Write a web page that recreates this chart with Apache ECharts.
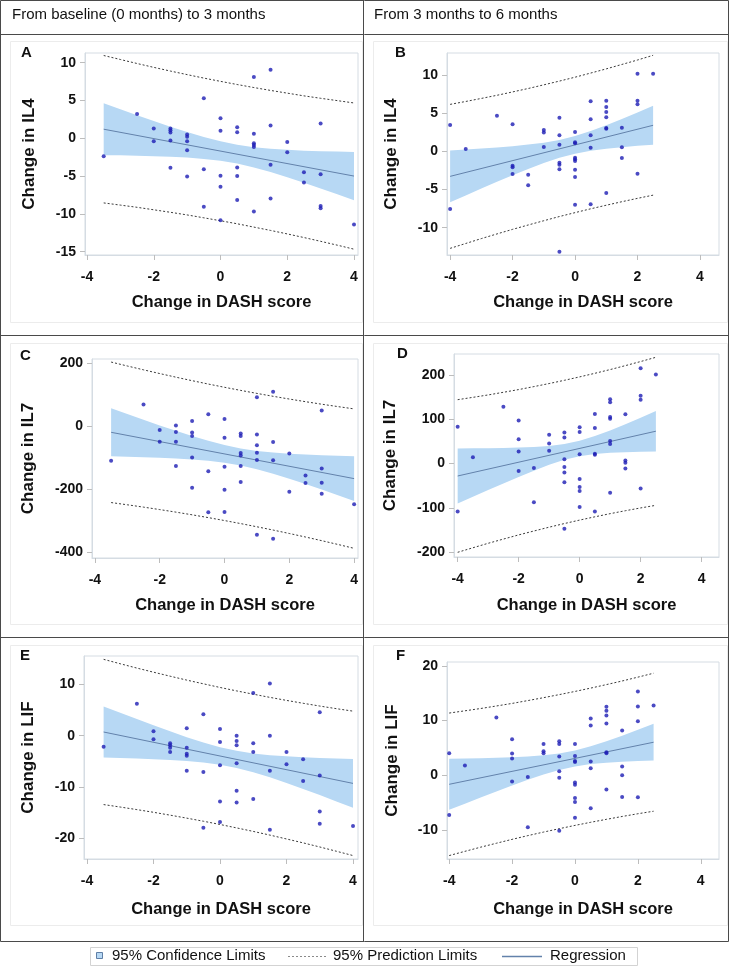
<!DOCTYPE html>
<html>
<head>
<meta charset="utf-8">
<script src="https://cdn.jsdelivr.net/npm/echarts/dist/echarts.min.js"></script>
<style>
  html, body { margin: 0; padding: 0; background: #fff; }
  #chart { width: 729px; height: 967px; }
</style>
</head>
<body>
<div id="chart"></div>
<script>
// x positions of the fitted curves (DASH score change)
const fitX1 = [-3.5, -3, -2.5, -2, -1.5, -1, -0.5, 0, 0.5, 1, 1.5, 2, 2.5, 3, 3.5, 4]
const fitX2 = [-4, -3.5, -3, -2.5, -2, -1.5, -1, -0.5, 0, 0.5, 1, 1.5, 2, 2.5]
const xTicks = [-4, -2, 0, 2, 4]

// A: IL4, baseline -> 3 months
const ptsA = [[-3.5,-2.38],[-2.5,3.2],[-2,1.3],[-2,-0.4],[-1.5,1.3],[-1.5,1.05],[-1.5,0.75],[-1.5,-0.3],[-1.5,-3.9],
  [-1,0.5],[-1,0.2],[-1,-0.4],[-1,-1.6],[-1,-5.05],[-0.5,5.3],[-0.5,-4.1],[-0.5,-9.05],
  [0,2.65],[0,1.0],[0,-4.95],[0,-6.4],[0,-10.85],[0.5,1.45],[0.5,0.8],[0.5,-3.85],[0.5,-5.0],[0.5,-8.15],
  [1,8.1],[1,0.6],[1,-0.65],[1,-0.9],[1,-1.15],[1,-9.7],[1.5,9.05],[1.5,1.7],[1.5,-3.5],[1.5,-7.95],
  [2,-0.5],[2,-1.85],[2.5,-4.5],[2.5,-5.85],[3,1.95],[3,-4.75],[3,-8.95],[3,-9.25],[4,-11.4]]
const regA = [[-3.5, 1.2], [4, -5.0]]
const ciHiA = [4.63, 3.84, 3.06, 2.29, 1.54, 0.83, 0.17, -0.40, -0.85, -1.18, -1.39, -1.53, -1.64, -1.70, -1.75, -1.80]
const ciLoA = [-2.23, -2.26, -2.30, -2.37, -2.44, -2.55, -2.73, -2.98, -3.35, -3.86, -4.47, -5.15, -5.88, -6.64, -7.41, -8.20]
const piHiA = [10.95, 10.42, 9.89, 9.38, 8.89, 8.42, 7.96, 7.53, 7.11, 6.71, 6.33, 5.97, 5.61, 5.29, 4.98, 4.67]
const piLoA = [-8.55, -8.84, -9.13, -9.46, -9.79, -10.14, -10.52, -10.91, -11.31, -11.75, -12.19, -12.65, -13.13, -13.63, -14.14, -14.67]

// B: IL4, 3 -> 6 months
const ptsB = [[-4,3.45],[-4,-7.55],[-3.5,0.3],[-2.5,4.67],[-2,3.54],[-2,-1.88],[-2,-2.1],[-2,-2.97],[-1.5,-3.06],[-1.5,-4.45],
  [-1,2.8],[-1,2.45],[-1,0.57],[-0.5,4.41],[-0.5,2.1],[-0.5,0.87],[-0.5,-1.48],[-0.5,-1.75],[-0.5,-2.36],[-0.5,-13.14],
  [0,2.53],[0,1.18],[0,1.05],[0,-0.83],[0,-1.05],[0,-1.27],[0,-2.4],[0,-3.36],[0,-6.99],
  [0.5,6.55],[0.5,4.19],[0.5,2.1],[0.5,0.48],[0.5,-6.94],[1,6.64],[1,5.8],[1,5.15],[1,4.45],[1,3.06],[1,2.97],[1,-5.46],
  [1.5,3.1],[1.5,0.52],[1.5,-0.87],[2,10.17],[2,6.64],[2,6.16],[2,-2.93],[2.5,10.17]]
const regB = [[-4, -3.28], [2.5, 3.41]]
const ciHiB = [0.12, 0.24, 0.37, 0.51, 0.68, 0.88, 1.14, 1.50, 2.00, 2.65, 3.40, 4.23, 5.08, 5.97]
const ciLoB = [-6.68, -5.78, -4.87, -3.99, -3.12, -2.30, -1.52, -0.84, -0.32, 0.07, 0.34, 0.55, 0.72, 0.87]
const piHiB = [6.15, 6.53, 6.93, 7.34, 7.78, 8.23, 8.71, 9.20, 9.71, 10.25, 10.80, 11.38, 11.96, 12.58]
const piLoB = [-12.71, -12.07, -11.43, -10.82, -10.22, -9.65, -9.09, -8.54, -8.03, -7.53, -7.06, -6.60, -6.16, -5.74]

// C: IL7, baseline -> 3 months
const ptsC = [[-3.5,-109],[-2.5,69],[-2,-12],[-2,-49],[-1.5,3],[-1.5,-18],[-1.5,-49],[-1.5,-126],
  [-1,17],[-1,-20],[-1,-31],[-1,-99],[-1,-195],[-0.5,38],[-0.5,-143],[-0.5,-273],
  [0,23],[0,-36],[0,-128],[0,-201],[0,-272],[0.5,-23],[0.5,-31],[0.5,-85],[0.5,-93],[0.5,-126],[0.5,-177],
  [1,92],[1,-26],[1,-60],[1,-84],[1,-107],[1,-344],[1.5,110],[1.5,-50],[1.5,-108],[1.5,-357],
  [2,-86],[2,-208],[2.5,-156],[2.5,-180],[3,50],[3,-134],[3,-179],[3,-214],[4,-247]]
const regC = [[-3.5, -19], [4, -166]]
const ciHiC = [57.0, 38.8, 20.7, 3.0, -14.3, -30.9, -46.2, -59.6, -70.3, -78.1, -83.4, -87.1, -89.8, -91.9, -93.6, -95.1]
const ciLoC = [-95.0, -96.4, -97.9, -99.8, -102.1, -105.1, -109.4, -115.6, -124.5, -136.3, -150.6, -166.5, -183.4, -200.9, -218.8, -236.9]
const piHiC = [204.0, 191.5, 179.3, 167.5, 156.0, 144.9, 134.2, 123.9, 114.0, 104.5, 95.3, 86.6, 78.2, 70.2, 62.6, 55.3]
const piLoC = [-242.0, -249.1, -256.5, -264.3, -272.4, -280.9, -289.8, -299.1, -308.8, -318.9, -329.3, -340.2, -351.4, -363.0, -375.0, -387.3]

// D: IL7, 3 -> 6 months
const ptsD = [[-4,83],[-4,-108],[-3.5,14],[-2.5,128],[-2,97],[-2,55],[-2,27],[-2,-17],[-1.5,-87],[-1.5,-10],
  [-1,65],[-1,45],[-1,29],[-0.5,70],[-0.5,59],[-0.5,10],[-0.5,-8],[-0.5,-20],[-0.5,-42],[-0.5,-147],
  [0,82],[0,71],[0,21],[0,-35],[0,-53],[0,-62],[0,-98],[0.5,112],[0.5,80],[0.5,22],[0.5,20],[0.5,-108],
  [1,145],[1,138],[1,105],[1,101],[1,51],[1,44],[1,-66],[1.5,111],[1.5,7],[1.5,2],[1.5,-11],
  [2,215],[2,153],[2,144],[2,-56],[2.5,201]]
const regD = [[-4, -28], [2.5, 73]]
const ciHiD = [34.0, 34.3, 34.6, 35.2, 36.0, 37.4, 39.7, 44.0, 51.3, 62.0, 74.8, 88.8, 103.3, 118.3]
const ciLoD = [-90.0, -74.8, -59.6, -44.7, -30.0, -15.9, -2.7, 8.6, 16.7, 21.6, 24.2, 25.8, 26.7, 27.3]
const piHiD = [144.0, 149.3, 154.7, 160.7, 166.8, 173.5, 180.4, 187.7, 195.4, 203.5, 211.9, 220.8, 230.0, 239.6]
const piLoD = [-200.0, -189.8, -179.7, -170.2, -160.8, -152.0, -143.4, -135.2, -127.4, -120.0, -112.9, -106.3, -100.0, -94.1]

// E: LIF, baseline -> 3 months
const ptsE = [[-3.5,-2.14],[-2.5,6.23],[-2,0.84],[-2,-0.71],[-1.5,-1.49],[-1.5,-1.88],[-1.5,-2.34],[-1.5,-3.18],
  [-1,1.43],[-1,-2.34],[-1,-3.51],[-1,-3.9],[-1,-6.82],[-0.5,4.16],[-0.5,-7.08],[-0.5,-17.92],
  [0,1.3],[0,-1.23],[0,-5.78],[0,-12.79],[0,-16.82],[0.5,0],[0.5,-1.04],[0.5,-1.88],[0.5,-5.39],[0.5,-10.71],[0.5,-12.99],
  [1,8.31],[1,-1.49],[1,-3.18],[1,-12.34],[1.5,10.13],[1.5,0],[1.5,-6.82],[1.5,-18.31],
  [2,-3.18],[2,-5.58],[2.5,-4.61],[2.5,-8.83],[3,4.55],[3,-7.73],[3,-14.74],[3,-17.14],[4,-17.6]]
const regE = [[-3.5, 0.71], [4, -9.29]]
const ciHiE = [5.69, 4.45, 3.22, 2.02, 0.84, -0.29, -1.33, -2.25, -2.96, -3.45, -3.79, -4.02, -4.19, -4.33, -4.45, -4.54]
const ciLoE = [-4.25, -4.35, -4.46, -4.58, -4.74, -4.95, -5.23, -5.65, -6.28, -7.11, -8.11, -9.22, -10.37, -11.57, -12.79, -14.02]
const piHiE = [14.85, 13.99, 13.15, 12.35, 11.57, 10.81, 10.09, 9.38, 8.71, 8.07, 7.45, 6.86, 6.30, 5.76, 5.25, 4.77]
const piLoE = [-13.41, -13.89, -14.39, -14.91, -15.47, -16.05, -16.65, -17.28, -17.95, -18.63, -19.35, -20.10, -20.86, -21.66, -22.49, -23.33]

// F: LIF, 3 -> 6 months
const ptsF = [[-4,4.02],[-4,-7.26],[-3.5,1.77],[-2.5,10.55],[-2,6.59],[-2,3.96],[-2,3.05],[-2,-1.16],[-1.5,-0.3],[-1.5,-9.51],
  [-1,5.73],[-1,4.39],[-1,4.02],[-0.5,6.22],[-0.5,5.73],[-0.5,3.41],[-0.5,0.73],[-0.5,-0.43],[-0.5,-10.12],
  [0,5.73],[0,3.54],[0,2.62],[0,2.44],[0,-1.34],[0,-1.71],[0,-4.15],[0,-4.88],[0,-7.74],
  [0.5,10.37],[0.5,9.09],[0.5,2.5],[0.5,1.28],[0.5,-6.04],[1,12.5],[1,11.77],[1,10.91],[1,9.45],[1,4.21],[1,4.02],[1,-2.62],
  [1.5,8.17],[1.5,1.59],[1.5,0],[1.5,-3.96],[2,15.3],[2,12.56],[2,9.88],[2,-4.02],[2.5,12.74]]
const regF = [[-4, -1.65], [2.5, 6.04]]
const ciHiF = [3.02, 3.07, 3.12, 3.20, 3.29, 3.45, 3.65, 4.00, 4.54, 5.29, 6.21, 7.22, 8.30, 9.40]
const ciLoF = [-6.32, -5.19, -4.06, -2.96, -1.87, -0.83, 0.15, 0.98, 1.62, 2.05, 2.31, 2.48, 2.60, 2.68]
const piHiF = [11.37, 11.78, 12.20, 12.66, 13.13, 13.65, 14.18, 14.74, 15.32, 15.93, 16.57, 17.23, 17.93, 18.65]
const piLoF = [-14.67, -13.90, -13.14, -12.42, -11.71, -11.03, -10.38, -9.76, -9.16, -8.59, -8.05, -7.53, -7.03, -6.57]

const BAND = '#b7d8f4'
const REG = '#6382ab'
const DOT = '#1d1db4'
const PRED = '#3a3a3a'
const FONT = '"Liberation Sans", Arial, sans-serif'

const panels = [
  { letter: 'A', lx: 27, ly: 54, grid: { left: 85, top: 53, width: 273, height: 202 }, xr: [-4.06, 4.12], yr: [-15.44, 11.28],
    yTicks: [-15, -10, -5, 0, 5, 10], yName: 'Change in IL4', yGap: 47, xGap: 39,
    pts: ptsA, fx: fitX1, reg: regA, ciHi: ciHiA, ciLo: ciLoA, piHi: piHiA, piLo: piLoA },
  { letter: 'B', lx: 401, ly: 54, grid: { left: 447, top: 53, width: 272, height: 202 }, xr: [-4.1, 4.61], yr: [-13.58, 12.88],
    yTicks: [-10, -5, 0, 5, 10], yName: 'Change in IL4', yGap: 47, xGap: 39,
    pts: ptsB, fx: fitX2, reg: regB, ciHi: ciHiB, ciLo: ciLoB, piHi: piHiB, piLo: piLoB },
  { letter: 'C', lx: 26, ly: 357, grid: { left: 92, top: 359, width: 266, height: 199 }, xr: [-4.09, 4.12], yr: [-418, 213.7],
    yTicks: [-400, -200, 0, 200], yName: 'Change in IL7', yGap: 55, xGap: 39,
    pts: ptsC, fx: fitX1, reg: regC, ciHi: ciHiC, ciLo: ciLoC, piHi: piHiC, piLo: piLoC },
  { letter: 'D', lx: 403, ly: 355, grid: { left: 454, top: 354, width: 265, height: 203 }, xr: [-4.12, 4.57], yr: [-210.6, 247],
    yTicks: [-200, -100, 0, 100, 200], yName: 'Change in IL7', yGap: 55, xGap: 40,
    pts: ptsD, fx: fitX2, reg: regD, ciHi: ciHiD, ciLo: ciLoD, piHi: piHiD, piLo: piLoD },
  { letter: 'E', lx: 26, ly: 657, grid: { left: 84, top: 656, width: 274, height: 203 }, xr: [-4.09, 4.15], yr: [-24.0, 15.5],
    yTicks: [-20, -10, 0, 10], yName: 'Change in LIF', yGap: 47, xGap: 42,
    pts: ptsE, fx: fitX1, reg: regE, ciHi: ciHiE, ciLo: ciLoE, piHi: piHiE, piLo: piLoE },
  { letter: 'F', lx: 402, ly: 657, grid: { left: 447, top: 662, width: 272, height: 197 }, xr: [-4.07, 4.58], yr: [-15.3, 20.7],
    yTicks: [-10, 0, 10, 20], yName: 'Change in LIF', yGap: 46, xGap: 42,
    pts: ptsF, fx: fitX2, reg: regF, ciHi: ciHiF, ciLo: ciLoF, piHi: piHiF, piLo: piLoF }
]

const grids = [], xAxes = [], yAxes = [], series = [], graphics = []

panels.forEach((p, i) => {
  grids.push(Object.assign({ show: true, borderColor: '#d5dce3', borderWidth: 1, backgroundColor: '#fff' }, p.grid))
  xAxes.push({
    type: 'value', gridIndex: i, min: p.xr[0], max: p.xr[1],
    name: 'Change in DASH score', nameLocation: 'middle', nameGap: p.xGap,
    nameTextStyle: { fontFamily: FONT, fontWeight: 'bold', fontSize: 16.5, color: '#111' },
    axisLine: { show: true, onZero: false, lineStyle: { color: '#d5dce3' } },
    axisTick: { show: true, length: 5, customValues: xTicks, lineStyle: { color: '#bdbdbd' } },
    axisLabel: { customValues: xTicks, margin: 15, fontFamily: FONT, fontWeight: 'bold', fontSize: 14, color: '#111' },
    splitLine: { show: false }
  })
  yAxes.push({
    type: 'value', gridIndex: i, min: p.yr[0], max: p.yr[1],
    name: p.yName, nameLocation: 'middle', nameGap: p.yGap,
    nameTextStyle: { fontFamily: FONT, fontWeight: 'bold', fontSize: 17, color: '#111' },
    axisLine: { show: true, onZero: false, lineStyle: { color: '#d5dce3' } },
    axisTick: { show: true, length: 5, customValues: p.yTicks, lineStyle: { color: '#bdbdbd' } },
    axisLabel: { customValues: p.yTicks, margin: 9, fontFamily: FONT, fontWeight: 'bold', fontSize: 14, color: '#111' },
    splitLine: { show: false }
  })

  const fx = p.fx, lo = p.ciLo, hi = p.ciHi
  series.push({
    name: '95% Confidence Limits', type: 'custom', xAxisIndex: i, yAxisIndex: i,
    silent: true, z: 1, clip: true, data: [[0, 0]],
    renderItem(params, api) {
      const poly = fx.map((x, k) => api.coord([x, hi[k]]))
      for (let k = fx.length - 1; k >= 0; k--) poly.push(api.coord([fx[k], lo[k]]))
      return { type: 'polygon', shape: { points: poly }, style: { fill: BAND } }
    }
  })
  series.push({
    name: '95% Prediction Limits', type: 'line', xAxisIndex: i, yAxisIndex: i, silent: true, z: 3,
    symbol: 'none', data: fx.map((x, k) => [x, p.piHi[k]]),
    lineStyle: { color: PRED, width: 1, type: [2, 2] }
  })
  series.push({
    name: '95% Prediction Limits', type: 'line', xAxisIndex: i, yAxisIndex: i, silent: true, z: 3,
    symbol: 'none', data: fx.map((x, k) => [x, p.piLo[k]]),
    lineStyle: { color: PRED, width: 1, type: [2, 2] }
  })
  series.push({
    name: 'Regression', type: 'line', xAxisIndex: i, yAxisIndex: i, silent: true, z: 4,
    symbol: 'none', data: p.reg, lineStyle: { color: REG, width: 1 }
  })
  series.push({
    type: 'scatter', xAxisIndex: i, yAxisIndex: i, z: 5,
    symbolSize: 4, data: p.pts, itemStyle: { color: DOT }
  })

  graphics.push({ type: 'text', left: p.lx - 6, top: p.ly - 9,
    style: { text: p.letter, font: 'bold 15px ' + FONT, fill: '#111' } })
})

// faint SAS graph borders inside each table cell
const cellBoxes = [[10, 41, 352, 281], [373, 41, 354, 281], [10, 343, 352, 281], [373, 343, 354, 281], [10, 645, 352, 280], [373, 645, 354, 280]]
cellBoxes.forEach(b => graphics.push({ type: 'rect', z: -1, silent: true,
  shape: { x: b[0] + 0.5, y: b[1] + 0.5, width: b[2], height: b[3] }, style: { fill: null, stroke: '#ececec', lineWidth: 1 } }))

// table lines
graphics.push(
  { type: 'rect', silent: true, shape: { x: 0.5, y: 0.5, width: 728, height: 941 }, style: { fill: null, stroke: '#4a4a4a', lineWidth: 1 } },
  { type: 'line', silent: true, shape: { x1: 0, y1: 34.5, x2: 729, y2: 34.5 }, style: { stroke: '#4a4a4a', lineWidth: 1 } },
  { type: 'line', silent: true, shape: { x1: 0, y1: 335.5, x2: 729, y2: 335.5 }, style: { stroke: '#4a4a4a', lineWidth: 1 } },
  { type: 'line', silent: true, shape: { x1: 0, y1: 637.5, x2: 729, y2: 637.5 }, style: { stroke: '#4a4a4a', lineWidth: 1 } },
  { type: 'line', silent: true, shape: { x1: 363.5, y1: 0, x2: 363.5, y2: 942 }, style: { stroke: '#4a4a4a', lineWidth: 1 } },
  { type: 'text', left: 12, top: 7, style: { text: 'From baseline (0 months) to 3 months', font: '15px ' + FONT, fill: '#111' } },
  { type: 'text', left: 374, top: 7, style: { text: 'From 3 months to 6 months', font: '15px ' + FONT, fill: '#111' } }
)

// legend box
graphics.push(
  { type: 'rect', silent: true, shape: { x: 90.5, y: 947.5, width: 547, height: 18 }, style: { fill: '#fff', stroke: '#d3d3d3', lineWidth: 1 } },
  { type: 'rect', silent: true, shape: { x: 96.5, y: 952.5, width: 6, height: 6 }, style: { fill: BAND, stroke: '#5f7fa6', lineWidth: 1 } },
  { type: 'text', left: 112, top: 948, style: { text: '95% Confidence Limits', font: '15px ' + FONT, fill: '#111' } },
  { type: 'line', silent: true, shape: { x1: 288, y1: 956.5, x2: 328, y2: 956.5 }, style: { stroke: '#8a8a8a', lineWidth: 1, lineDash: [2, 2] } },
  { type: 'text', left: 333, top: 948, style: { text: '95% Prediction Limits', font: '15px ' + FONT, fill: '#111' } },
  { type: 'line', silent: true, shape: { x1: 502, y1: 956.5, x2: 542, y2: 956.5 }, style: { stroke: REG, lineWidth: 1.5 } },
  { type: 'text', left: 550, top: 948, style: { text: 'Regression', font: '15px ' + FONT, fill: '#111' } }
)

const chart = echarts.init(document.getElementById('chart'))
chart.setOption({
  animation: false,
  backgroundColor: '#fff',
  grid: grids,
  xAxis: xAxes,
  yAxis: yAxes,
  series: series,
  graphic: graphics
})
</script>
</body>
</html>
